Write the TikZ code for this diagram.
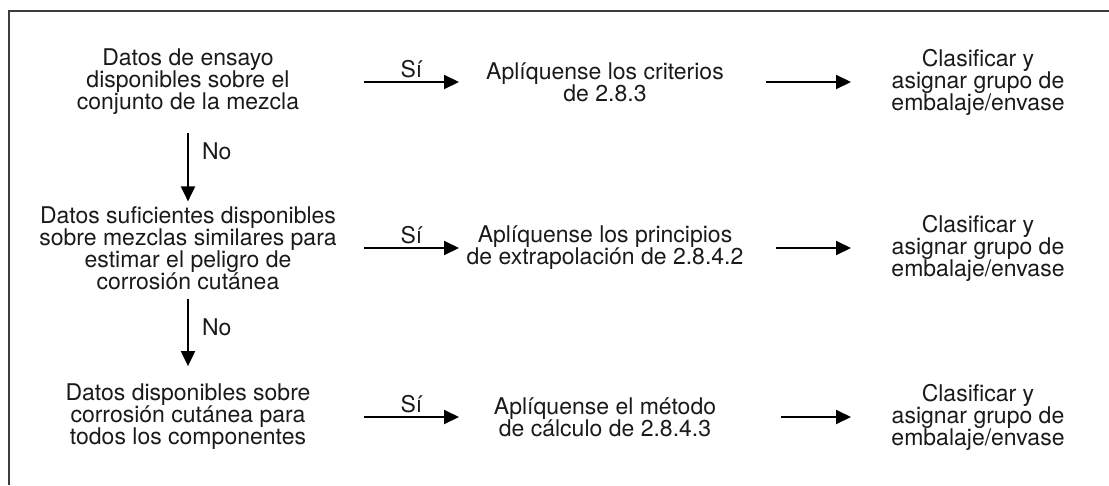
\documentclass[tikz,border=0pt]{standalone}
\usepackage{fontspec}
\setmainfont{TeX Gyre Heros}
\usetikzlibrary{arrows.meta, positioning}
\definecolor{framegray}{HTML}{3C3C3C}
\definecolor{ink}{HTML}{1A1A1A}
\newcommand{\chartfont}{\fontsize{23}{22}\selectfont\lineskiplimit=-20pt\relax}

\begin{document}
\begin{tikzpicture}[
    x=1pt, y=-1pt, on grid, >={Triangle[length=15pt, width=14pt]},
    font=\chartfont, line width=2pt,
    every node/.style={inner sep=0pt, align=center, text=ink},
    data/.style={minimum width=350pt},
    rule/.style={minimum width=290pt},
    result/.style={minimum width=252pt},
    tag/.style={inner sep=3pt},
    ]

    \useasboundingbox (0,0) rectangle (1109,485);
    \draw[framegray] (9,485) -- (9,11) -- (1109,11);

    \node[data]   (d1) at (188,82)               {Datos de ensayo\\disponibles sobre el\\conjunto de la mezcla};
    \node[rule]   (r1) [right=417pt of d1]       {Aplíquense los criterios\\de 2.8.3};
    \node[result] (c1) [right=373pt of r1]       {Clasificar y\\asignar grupo de\\embalaje/envase};

    \node[data]   (d2) [below=166pt of d1]       {Datos suficientes disponibles\\sobre mezclas similares para\\estimar el peligro de\\corrosión cutánea};
    \node[rule]   (r2) [right=417pt of d2]       {Aplíquense los principios\\de extrapolación de 2.8.4.2};
    \node[result] (c2) [right=373pt of r2]       {Clasificar y\\asignar grupo de\\embalaje/envase};

    \node[data]   (d3) [below=169pt of d2]       {Datos disponibles sobre\\corrosión cutánea para\\todos los componentes};
    \node[rule]   (r3) [right=417pt of d3]       {Aplíquense el método\\de cálculo de 2.8.4.3};
    \node[result] (c3) [right=373pt of r3]       {Clasificar y\\asignar grupo de\\embalaje/envase};

    \draw[->] (d1.east) -- node[tag, above] {Sí} (r1.west);
    \draw[->] (d2.east) -- node[tag, above] {Sí} (r2.west);
    \draw[->] (d3.east) -- node[tag, above] {Sí} (r3.west);

    \draw[->, shorten <=15pt] (r1.east) -- (c1.west);
    \draw[->, shorten <=25pt] (r2.east) -- (c2.west);
    \draw[->, shorten <=30pt] (r3.east) -- (c3.west);

    \draw[->, shorten <=17pt, shorten >=4pt] (d1.south) -- node[tag, right=10pt, pos=0.4] {No} (d2.north);
    \draw[->, shorten <=8pt, shorten >=17pt] (d2.south) -- node[tag, right=10pt, pos=0.4] {No} (d3.north);
\end{tikzpicture}
\end{document}
